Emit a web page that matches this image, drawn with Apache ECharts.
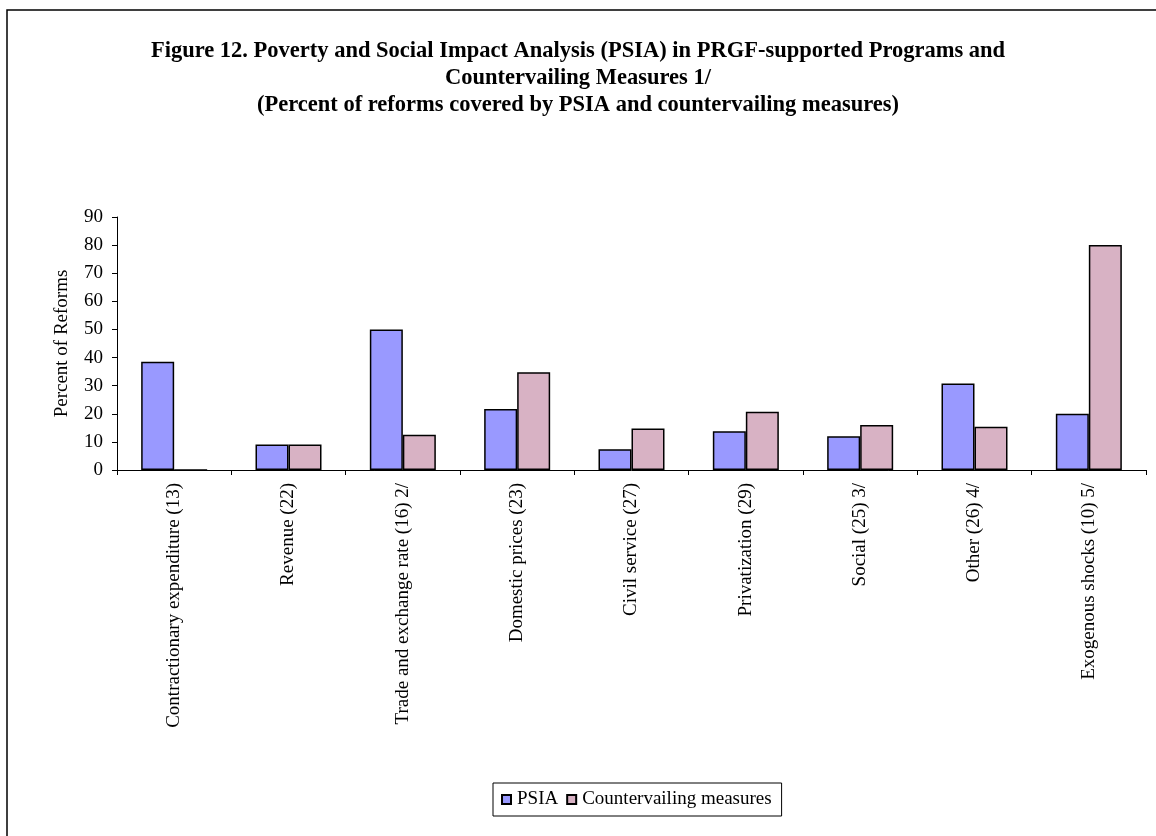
<!DOCTYPE html>
<html>
<head>
<meta charset="utf-8">
<script src="https://cdn.jsdelivr.net/npm/echarts@6/dist/echarts.min.js"></script>
<style>
  html, body { margin: 0; padding: 0; background: #fff; }
  #chart { width: 1156px; height: 836px; }
</style>
</head>
<body>
<div id="chart"></div>
<script>
// Reform categories (number of reforms in parentheses)
const categories = [
  'Contractionary expenditure (13)',
  'Revenue (22)',
  'Trade and exchange rate (16) 2/',
  'Domestic prices (23)',
  'Civil service (27)',
  'Privatization (29)',
  'Social (25) 3/',
  'Other (26) 4/',
  'Exogenous shocks (10) 5/'
];

// Percent of reforms covered by PSIA
const psia = [38.5, 9.1, 50.0, 21.7, 7.4, 13.8, 12.0, 30.8, 20.0];

// Percent of reforms with countervailing measures
const countervailing = [0, 9.1, 12.5, 34.8, 14.8, 20.7, 16.0, 15.4, 80.0];

const yTicks = { min: 0, max: 90, step: 10 };

const titleLines = [
  'Figure 12. Poverty and Social Impact Analysis (PSIA) in PRGF-supported Programs and',
  'Countervailing Measures 1/',
  '(Percent of reforms covered by PSIA and countervailing measures)'
];

const serif = '"Liberation Serif", "DejaVu Serif", serif';

const chart = echarts.init(document.getElementById('chart'), null, { renderer: 'canvas' });

chart.setOption({
  backgroundColor: '#fff',
  animation: false,
  textStyle: { fontFamily: serif, color: '#000' },
  title: {
    text: titleLines.join('\n'),
    left: 'center',
    top: 33,
    textStyle: {
      fontFamily: serif,
      fontWeight: 'bold',
      fontSize: 22.5,
      lineHeight: 27,
      color: '#000'
    }
  },
  graphic: [{
    type: 'rect',
    shape: { x: 7, y: 10, width: 1170, height: 850 },
    style: { fill: 'none', stroke: '#000', lineWidth: 1.5 },
    silent: true,
    z: 0
  }],
  legend: {
    left: 493,
    top: 783,
    orient: 'horizontal',
    data: ['PSIA', 'Countervailing measures'],
    icon: 'rect',
    itemWidth: 9,
    itemHeight: 9,
    itemGap: 8,
    padding: [7, 10, 7, 8],
    borderColor: '#000',
    borderWidth: 1,
    textStyle: { fontFamily: serif, fontSize: 19, color: '#000', padding: [0, 0, 0, 1] }
  },
  grid: {
    left: 117,
    right: 10,
    top: 217,
    bottom: 366,
    containLabel: false
  },
  xAxis: {
    type: 'category',
    data: categories,
    axisLine: { show: true, lineStyle: { color: '#000', width: 1 } },
    axisTick: { show: true, length: 5, alignWithLabel: false, lineStyle: { color: '#000' } },
    axisLabel: {
      rotate: 90,
      interval: 0,
      margin: 13,
      fontFamily: serif,
      fontSize: 19,
      color: '#000'
    },
    splitLine: { show: false }
  },
  yAxis: {
    type: 'value',
    min: yTicks.min,
    max: yTicks.max,
    interval: yTicks.step,
    name: 'Percent of Reforms',
    nameLocation: 'middle',
    nameGap: 45,
    nameRotate: 90,
    nameTextStyle: { fontFamily: serif, fontSize: 19, color: '#000' },
    axisLine: { show: true, lineStyle: { color: '#000', width: 1 } },
    axisTick: { show: true, length: 5, lineStyle: { color: '#000' } },
    axisLabel: { margin: 14, fontFamily: serif, fontSize: 19, color: '#000' },
    splitLine: { show: false }
  },
  series: [
    {
      name: 'PSIA',
      type: 'bar',
      data: psia,
      barWidth: 33,
      barGap: '0%',
      itemStyle: { color: '#9999FF', borderColor: '#000', borderWidth: 1.5 }
    },
    {
      name: 'Countervailing measures',
      type: 'bar',
      data: countervailing,
      barWidth: 33,
      barGap: '0%',
      itemStyle: { color: '#D8B2C4', borderColor: '#000', borderWidth: 1.5 }
    }
  ]
});
</script>
</body>
</html>
